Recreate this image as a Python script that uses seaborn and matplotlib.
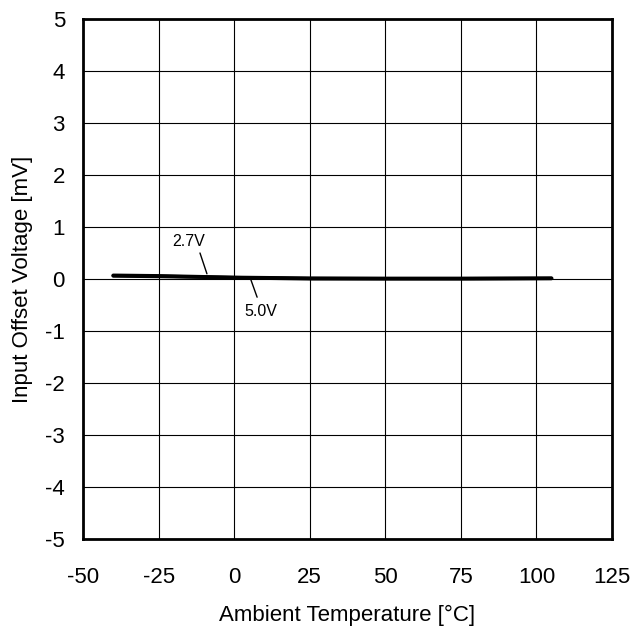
import matplotlib
matplotlib.use("Agg")
import matplotlib.pyplot as plt
import seaborn as sns
import pandas as pd

# data
temp = [-40, -25, 0, 25, 50, 75, 105]
vos_27 = [0.07, 0.06, 0.03, 0.015, 0.01, 0.01, 0.015]
vos_50 = [0.06, 0.05, 0.025, 0.005, 0.005, 0.005, 0.01]
x_ticks = [-50, -25, 0, 25, 50, 75, 100, 125]
y_ticks = [-5, -4, -3, -2, -1, 0, 1, 2, 3, 4, 5]
supplies = ["2.7V", "5.0V"]

df = pd.DataFrame({
    "temp": temp * 2,
    "vos": vos_27 + vos_50,
    "supply": [supplies[0]] * len(temp) + [supplies[1]] * len(temp),
})

sns.set_style("white")
plt.rcParams["font.family"] = ["Liberation Sans", "DejaVu Sans"]
plt.rcParams["axes.unicode_minus"] = False
plt.rcParams["text.color"] = "black"
plt.rcParams["axes.labelcolor"] = "black"

fig = plt.figure(figsize=(6.3, 6.32), dpi=100)
ax = fig.add_axes([83 / 630, 1 - 539 / 632, 529 / 630, 520 / 632])

sns.lineplot(data=df, x="temp", y="vos", hue="supply",
             palette=["black", "black"], linewidth=2.6, legend=False, ax=ax)

ax.set_xlim(-50, 125)
ax.set_ylim(-5, 5)
ax.set_xticks(x_ticks)
ax.set_yticks(y_ticks)
ax.grid(True, color="black", linewidth=0.8)
for s in ax.spines.values():
    s.set_linewidth(2)
    s.set_color("black")
ax.tick_params(direction="in", length=6, width=1.5, labelsize=16,
               colors="black")
ax.tick_params(axis="y", pad=13)
ax.tick_params(axis="x", pad=20)
ax.set_xlabel("Ambient Temperature [°C]", fontsize=16, labelpad=12)
ax.set_ylabel("Input Offset Voltage [mV]", fontsize=16, labelpad=9)

# leader lines + labels for the two curves
ax.annotate("", xy=(-9.0, 0.1), xytext=(-11.3, 0.5),
            arrowprops=dict(arrowstyle="-", color="black", lw=1,
                            shrinkA=0, shrinkB=0))
ax.text(-14.9, 0.73, supplies[0], fontsize=11.5, ha="center", va="center")
ax.annotate("", xy=(5.2, 0.04), xytext=(7.6, -0.35),
            arrowprops=dict(arrowstyle="-", color="black", lw=1,
                            shrinkA=0, shrinkB=0))
ax.text(8.9, -0.62, supplies[1], fontsize=11.5, ha="center", va="center")

fig.savefig("out.png", dpi=100)
